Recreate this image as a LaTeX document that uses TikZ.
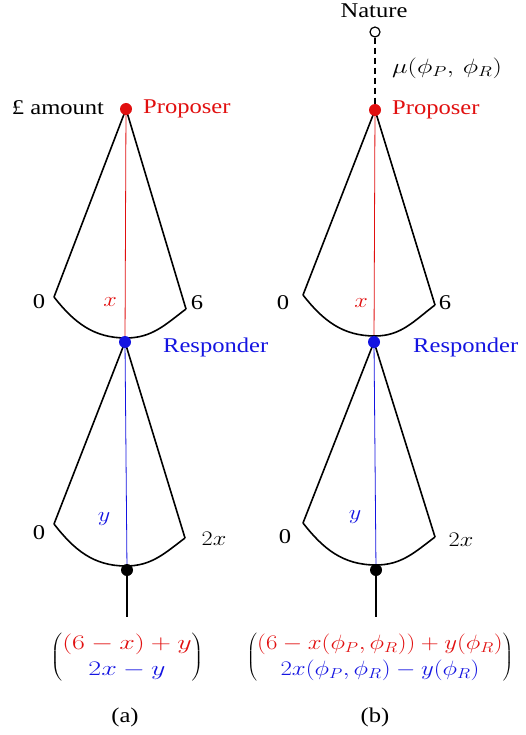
\documentclass[tikz,border=0pt]{standalone}
\usepackage{fontspec}
\setmainfont{Liberation Serif}
\definecolor{pred}{RGB}{225,15,15}
\definecolor{pblue}{RGB}{20,20,225}
\newcommand{\W}[1]{\scalebox{1.17}[1]{#1}}
\newcommand{\Wm}[2]{\scalebox{#1}[1]{#2}}
\begin{document}
\begin{tikzpicture}[x=1pt,y=-1pt,
  cone/.style={line width=1.6pt, line join=round},
  dot/.style={circle, inner sep=0pt, minimum size=12pt},
  lab/.style={font=\fontsize{21}{25}\selectfont, inner sep=0pt},
  vec/.style={font=\fontsize{20}{26}\selectfont, inner sep=0pt},
  stem/.style={line width=1.4pt},
  arcdown/.style={out=-52,in=180},
  arcup/.style={out=0,in=-143}]
\useasboundingbox (0,0) rectangle (526,735);

% ---------- panel (a) ----------
\coordinate (aP) at (126,109);
\coordinate (aL1) at (54,297);
\coordinate (aB1) at (126,338);
\coordinate (aR1) at (186,309);
\coordinate (aQ) at (125,342);
\coordinate (aL2) at (54,524);
\coordinate (aB2) at (126,566);
\coordinate (aR2) at (185,538);
\coordinate (aT) at (127,570);
\coordinate (aE) at (127,617);

\draw[pred, line width=0.8pt] (aP) -- (aQ);
\draw[pblue, line width=0.8pt] (aQ) -- (aT);
\draw[cone] (aL1) -- (aP) -- (aR1);
\draw[cone] (aL1) to[arcdown] (aB1) to[arcup] (aR1);
\draw[cone] (aL2) -- (aQ) -- (aR2);
\draw[cone] (aL2) to[arcdown] (aB2) to[arcup] (aR2);
\draw[stem] (aT) -- (aE);
\node[dot, fill=pred] (aPd) at (aP) {};
\node[dot, fill=pblue] (aQd) at (aQ) {};
\node[dot, fill=black] (aTd) at (aT) {};

\node[lab] (aAmt) at (58,108) {\W{£ amount}};
\node[lab, anchor=west, text=pred] (aProp) at (143,109) {\W{Proposer}};
\node[lab] (a0a) at (39,302) {\W{0}};
\node[lab] (a6) at (197,303) {\W{6}};
\node[lab, text=pred] (ax) at (110,302) {\W{$x$}};
\node[lab, anchor=west, text=pblue] (aResp) at (163,347) {\W{Responder}};
\node[lab] (a0b) at (39,533) {\W{0}};
\node[lab] (a2x) at (214,539) {\W{$2x$}};
\node[lab, text=pblue] (ay) at (104,519) {\W{$y$}};
\node[vec] (avec) at (127,657) {\Wm{1.35}{$\left(\begin{array}{@{}c@{}}\color{pred}(6-x)+y\\ \color{pblue}2x-y\end{array}\right)$}};
\node[lab] (acap) at (125,717) {\W{(a)}};

% ---------- panel (b) ----------
\coordinate (bN) at (375,32);
\coordinate (bP) at (375,110);
\coordinate (bL1) at (303,295);
\coordinate (bB1) at (375,336);
\coordinate (bR1) at (435,305);
\coordinate (bQ) at (374,342);
\coordinate (bL2) at (303,523);
\coordinate (bB2) at (376,565);
\coordinate (bR2) at (435,537);
\coordinate (bT) at (376,570);
\coordinate (bE) at (376,617);

\node[circle, draw, line width=1.2pt, fill=white, inner sep=0pt, minimum size=10pt] (bNd) at (bN) {};
\draw[stem, dash pattern=on 6pt off 4pt] (bNd) -- (bP);
\draw[pred, line width=0.8pt] (bP) -- (bQ);
\draw[pblue, line width=0.8pt] (bQ) -- (bT);
\draw[cone] (bL1) -- (bP) -- (bR1);
\draw[cone] (bL1) to[arcdown] (bB1) to[arcup] (bR1);
\draw[cone] (bL2) -- (bQ) -- (bR2);
\draw[cone] (bL2) to[arcdown] (bB2) to[arcup] (bR2);
\draw[stem] (bT) -- (bE);
\node[dot, fill=pred] (bPd) at (bP) {};
\node[dot, fill=pblue] (bQd) at (bQ) {};
\node[dot, fill=black] (bTd) at (bT) {};

\node[lab] (bNat) at (374,11) {\W{Nature}};
\node[lab, anchor=west] (bmu) at (392,68) {\Wm{1.27}{$\mu(\phi_P,\,\phi_R)$}};
\node[lab, anchor=west, text=pred] (bProp) at (392,110) {\W{Proposer}};
\node[lab] (b0a) at (283,303) {\W{0}};
\node[lab] (b6) at (445,303) {\W{6}};
\node[lab, text=pred] (bx) at (361,303) {\W{$x$}};
\node[lab, anchor=west, text=pblue] (bResp) at (413,347) {\W{Responder}};
\node[lab] (b0b) at (285,537) {\W{0}};
\node[lab] (b2x) at (461,540) {\W{$2x$}};
\node[lab, text=pblue] (by) at (355,517) {\W{$y$}};
\node[vec] (bvec) at (380,657) {\Wm{1.2}{$\left(\begin{array}{@{}c@{}}\color{pred}(6-x(\phi_P,\phi_R))+y(\phi_R)\\ \color{pblue}2x(\phi_P,\phi_R)-y(\phi_R)\end{array}\right)$}};
\node[lab] (bcap) at (375,717) {\W{(b)}};
\end{tikzpicture}
\end{document}
